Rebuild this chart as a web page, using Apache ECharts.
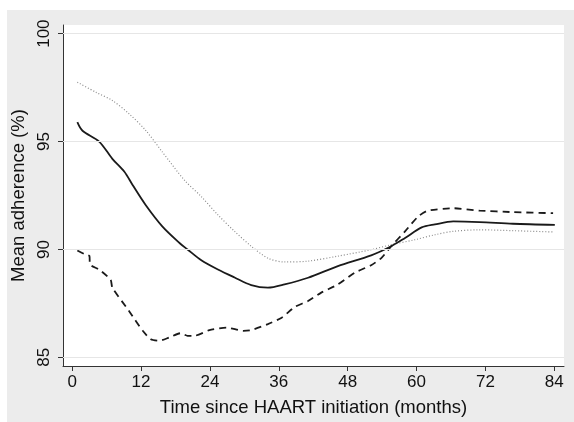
<!DOCTYPE html>
<html>
<head>
<meta charset="utf-8">
<script src="https://cdn.jsdelivr.net/npm/echarts@6/dist/echarts.min.js"></script>
<style>
  html, body { margin: 0; padding: 0; background: #ffffff; }
  #wrap { position: relative; width: 574px; height: 422px; }
  #bg { position: absolute; left: 7px; top: 10px; width: 567px; height: 412px; background: #ececec; }
  #chart { position: absolute; left: 0; top: 0; width: 574px; height: 422px; }
</style>
</head>
<body>
<div id="wrap">
  <div id="bg"></div>
  <div id="chart"></div>
</div>
<script>
// months since HAART initiation
var X_TICKS = [0, 12, 24, 36, 48, 60, 72, 84];
var Y_TICKS = [85, 90, 95, 100];

var solidLine = [
  [0.9, 95.9], [1.8, 95.5], [4.7, 95.0], [7.0, 94.2], [9.1, 93.6], [10.5, 93.0],
  [12.8, 92.06], [15.7, 91.07], [18.7, 90.3], [20.1, 90.0], [22.5, 89.5],
  [25.4, 89.07], [28.3, 88.7], [31.2, 88.35], [34.1, 88.23], [37.0, 88.38],
  [41.1, 88.69], [46.3, 89.23], [52.1, 89.73], [55.6, 90.15], [58.0, 90.53],
  [60.9, 91.02], [63.2, 91.16], [66.4, 91.3], [71.0, 91.27], [76.8, 91.19], [84.1, 91.14]
];

var dashedLine = [
  [0.9, 89.95], [2.1, 89.79], [3.0, 89.7], [3.1, 89.3], [4.7, 89.07], [6.7, 88.6],
  [7.0, 88.23], [9.9, 87.15], [12.3, 86.23], [13.7, 85.84], [15.2, 85.77],
  [16.9, 85.92], [18.9, 86.12], [20.1, 86.0], [21.3, 86.0], [23.9, 86.26],
  [26.9, 86.38], [29.8, 86.23], [31.2, 86.26], [34.1, 86.54], [36.5, 86.84],
  [38.8, 87.34], [41.1, 87.61], [43.4, 88.0], [46.3, 88.38], [49.2, 88.92],
  [52.1, 89.27], [53.9, 89.61], [55.6, 90.15], [58.0, 90.84], [60.3, 91.53],
  [62.0, 91.8], [66.4, 91.91], [71.0, 91.8], [76.8, 91.73], [83.8, 91.68]
];

var dottedLine = [
  [0.9, 97.75], [4.1, 97.29], [7.0, 96.9], [9.9, 96.29], [12.8, 95.52],
  [15.7, 94.52], [19.6, 93.2], [22.5, 92.45], [25.4, 91.6], [28.3, 90.84],
  [31.2, 90.15], [34.1, 89.6], [37.0, 89.42], [41.1, 89.46], [46.3, 89.69],
  [52.1, 89.99], [55.6, 90.22], [59.7, 90.45], [63.2, 90.68], [66.4, 90.84],
  [71.0, 90.91], [76.8, 90.87], [83.8, 90.81]
];

var FONT = 'Liberation Sans, Arial, Helvetica, sans-serif';
var TEXT = '#111111';
var AXIS = '#333333';

var chart = echarts.init(document.getElementById('chart'));

chart.setOption({
  animation: false,
  grid: {
    left: 63, right: 10, top: 25, bottom: 53,
    show: true, backgroundColor: '#ffffff', borderWidth: 0
  },
  xAxis: {
    type: 'value',
    min: -1.6,
    max: 85.7,
    name: 'Time since HAART initiation (months)',
    nameLocation: 'middle',
    nameGap: 32,
    nameTextStyle: { fontFamily: FONT, fontSize: 18.5, color: TEXT },
    axisLine: { show: true, onZero: false, lineStyle: { color: AXIS, width: 1 } },
    axisTick: { show: true, length: 5, customValues: X_TICKS, lineStyle: { color: AXIS } },
    axisLabel: { customValues: X_TICKS, margin: 8, fontFamily: FONT, fontSize: 17, color: TEXT },
    splitLine: { show: false }
  },
  yAxis: {
    type: 'value',
    min: 84.6,
    max: 100.4,
    name: 'Mean adherence (%)',
    nameLocation: 'middle',
    nameGap: 35,
    nameTextStyle: { fontFamily: FONT, fontSize: 18.5, color: TEXT },
    axisLine: { show: true, onZero: false, lineStyle: { color: AXIS, width: 1 } },
    axisTick: { show: true, length: 5, customValues: Y_TICKS, lineStyle: { color: AXIS } },
    axisLabel: { customValues: Y_TICKS, rotate: 90, margin: 10, fontFamily: FONT, fontSize: 17, color: TEXT },
    splitLine: { show: false }
  },
  series: [
    {
      type: 'line',
      data: dottedLine,
      symbol: 'none',
      smooth: 0.3,
      lineStyle: { color: '#8a8a8a', width: 1.2, type: [1, 2] },
      markLine: {
        silent: true,
        symbol: 'none',
        label: { show: false },
        lineStyle: { color: '#e6e6e6', width: 1, type: 'solid' },
        data: Y_TICKS.map(function(v) { return { yAxis: v }; })
      },
      z: 3
    },
    {
      type: 'line',
      data: solidLine,
      symbol: 'none',
      smooth: 0.3,
      lineStyle: { color: '#1a1a1a', width: 1.8 },
      z: 4
    },
    {
      type: 'line',
      data: dashedLine,
      symbol: 'none',
      smooth: 0.2,
      lineStyle: { color: '#1a1a1a', width: 1.8, type: [7, 5] },
      z: 4
    }
  ]
});
</script>
</body>
</html>
